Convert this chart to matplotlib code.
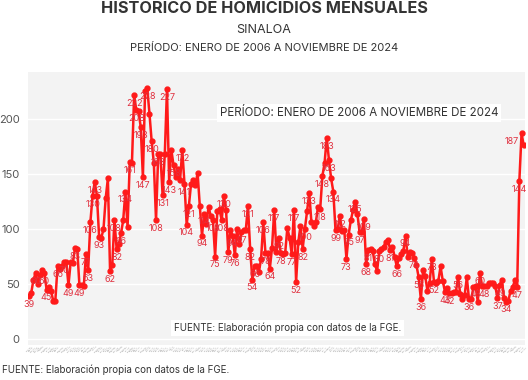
import matplotlib.pyplot as plt

plt.rcParams['font.family'] = ['Inter', 'DejaVu Sans']

# monthly homicides, Jan 2006 - Nov 2024
y2006 = [39, 42, 54, 60, 50, 58, 63, 60, 45, 47, 44, 35]
y2007 = [35, 66, 64, 66, 70, 70, 49, 70, 69, 83, 82, 49]
y2008 = [49, 48, 77, 63, 106, 130, 143, 130, 93, 92, 100, 128]
y2009 = [146, 62, 67, 108, 82, 86, 96, 108, 134, 102, 161, 160]
y2010 = [222, 208, 207, 193, 147, 226, 228, 205, 180, 160, 108, 168]
y2011 = [168, 131, 168, 227, 143, 172, 158, 147, 155, 145, 172, 141]
y2012 = [104, 121, 141, 145, 140, 151, 121, 94, 114, 105, 120, 112]
y2013 = [108, 75, 116, 118, 108, 130, 117, 79, 99, 94, 76, 100]
y2014 = [86, 97, 99, 99, 121, 82, 54, 66, 66, 61, 73, 106]
y2015 = [78, 78, 64, 83, 117, 79, 92, 78, 77, 78, 101, 92]
y2016 = [77, 117, 52, 88, 103, 82, 100, 116, 133, 106, 103, 106]
y2017 = [120, 118, 148, 160, 183, 163, 146, 134, 99, 100, 112, 98]
y2018 = [99, 73, 95, 108, 117, 125, 114, 97, 97, 109, 68, 81]
y2019 = [82, 80, 68, 62, 80, 82, 84, 88, 90, 81, 84, 75]
y2020 = [66, 74, 77, 80, 94, 75, 79, 78, 74, 67, 56, 36]
y2021 = [63, 57, 44, 51, 73, 52, 51, 53, 66, 53, 43, 46]
y2022 = [42, 42, 43, 43, 56, 41, 36, 40, 56, 36, 36, 47]
y2023 = [48, 34, 60, 48, 48, 48, 51, 51, 51, 48, 37, 49]
y2024 = [54, 37, 34, 35, 44, 47, 54, 47, 144, 187, 176]

years = [y2006, y2007, y2008, y2009, y2010, y2011, y2012, y2013, y2014, y2015,
         y2016, y2017, y2018, y2019, y2020, y2021, y2022, y2023, y2024]
meses = ['ene', 'feb', 'mar', 'abr', 'may', 'jun', 'jul', 'ago', 'sep', 'oct', 'nov', 'dic']

values = []
month_labels = []
for k in range(len(years)):
    for m in range(len(years[k])):
        values.append(years[k][m])
        month_labels.append(meses[m] + '-' + str(2006 + k)[2:])

# points that carry a value label in the original
labeled = [0, 3, 7, 8, 13, 16, 18, 21, 23, 26, 27, 28, 29, 30, 32, 37, 39, 40, 42,
           44, 46, 48, 49, 51, 52, 54, 56, 58, 59, 61, 63, 64, 66, 70, 71, 72, 73,
           79, 80, 84, 85, 88, 89, 91, 93, 94, 97, 100, 101, 102, 103, 107, 108,
           110, 112, 114, 115, 120, 121, 122, 125, 126, 128, 133, 134, 136, 137,
           139, 140, 142, 145, 146, 149, 151, 153, 154, 155, 160, 165, 168, 172,
           176, 178, 179, 184, 185, 190, 192, 196, 201, 204, 206, 208, 214, 215,
           218, 223, 224, 225]

x = list(range(len(values)))

fig = plt.figure(figsize=(5.28, 3.80), dpi=100)
ax = fig.add_axes([0.053, 0.092, 0.941, 0.719])
ax.set_facecolor('#f3f3f3')

ax.plot(x, values, color='#ff1a1a', lw=1.8, marker='o', ms=3.5, zorder=3)

for i in labeled:
    if i == 225:
        ax.annotate(str(values[i]), (i, values[i]), xytext=(-2, -6), textcoords='offset points',
                    ha='right', va='center', fontsize=6.5, color='#e0303f', zorder=4)
    else:
        ax.annotate(str(values[i]), (i, values[i]), xytext=(0, -6), textcoords='offset points',
                    ha='center', va='center', fontsize=6.5, color='#e0303f', zorder=4)

ax.set_xlim(-0.5, 226.5)
ax.set_ylim(-5.5, 243)
ax.set_yticks([0, 50, 100, 150, 200])
ax.tick_params(axis='y', length=0, labelsize=8, colors='#555555', pad=6)
ax.set_xticks(x)
ax.set_xticklabels(month_labels, rotation=45, fontsize=1.6, color='#999999')
ax.tick_params(axis='x', length=0, pad=1)
ax.grid(axis='y', color='white', lw=1)
ax.set_axisbelow(True)
for s in ax.spines.values():
    s.set_visible(False)

ax.text(0.666, 0.85, 'PERÍODO: ENERO DE 2006 A NOVIEMBRE DE 2024', transform=ax.transAxes,
        ha='center', va='center', fontsize=8.3, color='#333333',
        bbox=dict(facecolor='white', edgecolor='none', pad=2))
ax.text(0.522, 0.062, 'FUENTE: Elaboración propia con datos de la FGE.', transform=ax.transAxes,
        ha='center', va='center', fontsize=7, color='#333333',
        bbox=dict(facecolor='white', edgecolor='none', pad=2))

fig.text(0.5, 0.978, 'HISTÓRICO DE HOMICIDIOS MENSUALES', ha='center', va='center',
         fontsize=11.7, fontweight='bold', color='#333333')
fig.text(0.5, 0.92, 'SINALOA', ha='center', va='center', fontsize=9, color='#333333')
fig.text(0.5, 0.873, 'PERÍODO: ENERO DE 2006 A NOVIEMBRE DE 2024', ha='center', va='center',
         fontsize=8, color='#333333')
fig.text(0.004, 0.028, 'FUENTE: Elaboración propia con datos de la FGE.', ha='left', va='center',
         fontsize=7, color='#333333')

fig.savefig('out.png', dpi=100)
